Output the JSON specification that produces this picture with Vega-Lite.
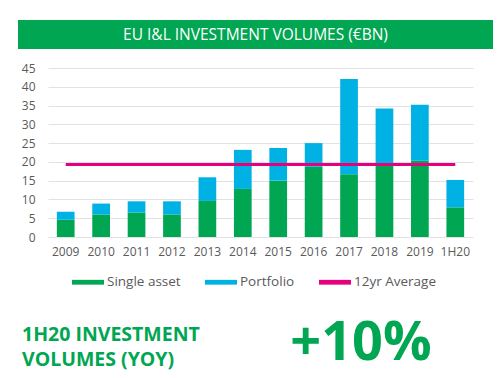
{
  "$schema": "https://vega.github.io/schema/vega-lite/v6.json",
  "width": 425,
  "height": 169,
  "autosize": "none",
  "padding": {"left": 48, "top": 68, "right": 31, "bottom": 141},
  "background": "white",
  "config": {
    "view": {"stroke": null},
    "font": "Open Sans",
    "axis": {"labelFont": "Open Sans", "labelColor": "#5a5a5a", "labelFontSize": 12},
    "legend": {"labelFont": "Open Sans", "labelColor": "#5a5a5a", "labelFontSize": 13.5}
  },
  "datasets": {
    "volumes": [
      {"year": "2009", "type": "Single asset", "value": 4.6},
      {"year": "2009", "type": "Portfolio", "value": 2.1},
      {"year": "2010", "type": "Single asset", "value": 6.0},
      {"year": "2010", "type": "Portfolio", "value": 2.9},
      {"year": "2011", "type": "Single asset", "value": 6.5},
      {"year": "2011", "type": "Portfolio", "value": 3.0},
      {"year": "2012", "type": "Single asset", "value": 6.0},
      {"year": "2012", "type": "Portfolio", "value": 3.5},
      {"year": "2013", "type": "Single asset", "value": 9.6},
      {"year": "2013", "type": "Portfolio", "value": 6.3},
      {"year": "2014", "type": "Single asset", "value": 12.8},
      {"year": "2014", "type": "Portfolio", "value": 10.4},
      {"year": "2015", "type": "Single asset", "value": 15.0},
      {"year": "2015", "type": "Portfolio", "value": 8.7},
      {"year": "2016", "type": "Single asset", "value": 18.7},
      {"year": "2016", "type": "Portfolio", "value": 6.3},
      {"year": "2017", "type": "Single asset", "value": 16.7},
      {"year": "2017", "type": "Portfolio", "value": 25.4},
      {"year": "2018", "type": "Single asset", "value": 19.1},
      {"year": "2018", "type": "Portfolio", "value": 15.1},
      {"year": "2019", "type": "Single asset", "value": 20.3},
      {"year": "2019", "type": "Portfolio", "value": 14.9},
      {"year": "1H20", "type": "Single asset", "value": 7.9},
      {"year": "1H20", "type": "Portfolio", "value": 7.3}
    ],
    "average": [
      {"year": "2009", "avg": 19.3}, {"year": "2010", "avg": 19.3}, {"year": "2011", "avg": 19.3},
      {"year": "2012", "avg": 19.3}, {"year": "2013", "avg": 19.3}, {"year": "2014", "avg": 19.3},
      {"year": "2015", "avg": 19.3}, {"year": "2016", "avg": 19.3}, {"year": "2017", "avg": 19.3},
      {"year": "2018", "avg": 19.3}, {"year": "2019", "avg": 19.3}, {"year": "1H20", "avg": 19.3}
    ],
    "one": [{}]
  },
  "layer": [
    {
      "data": {"name": "volumes"},
      "mark": {"type": "bar"},
      "encoding": {
        "x": {
          "field": "year", "type": "nominal", "sort": null,
          "scale": {"paddingInner": 0.5, "paddingOuter": 0.25},
          "axis": {"title": null, "labelAngle": 0, "ticks": false, "domain": false, "grid": false, "labelPadding": 9}
        },
        "y": {
          "field": "value", "type": "quantitative", "aggregate": "sum",
          "scale": {"domain": [0, 45]},
          "axis": {"title": null, "values": [0,5,10,15,20,25,30,35,40,45], "labelOverlap": false, "ticks": false, "domain": false, "labelPadding": 13, "gridColor": "#e2e2e2", "gridWidth": 1.2}
        },
        "color": {
          "field": "type", "type": "nominal",
          "scale": {"domain": ["Single asset", "Portfolio", "12yr Average"], "range": ["#00a651", "#00b2e3", "#e5007e"]},
          "legend": {
            "title": null, "orient": "none", "direction": "horizontal",
            "legendX": 24, "legendY": 198,
            "symbolType": "M-1,-0.15H1V0.15H-1Z", "symbolSize": 1024,
            "symbolStrokeWidth": 0, "labelOffset": 3, "columnPadding": 24,
            "encode": {"symbols": {"update": {"fill": {"scale": "color", "field": "value"}, "strokeWidth": {"value": 0}, "opacity": {"value": 1}}}}
          }
        },
        "order": {"field": "type", "sort": "descending"}
      }
    },
    {
      "data": {"name": "average"},
      "mark": {"type": "line", "strokeWidth": 3},
      "encoding": {
        "x": {"field": "year", "type": "nominal", "sort": null},
        "y": {
          "field": "avg", "type": "quantitative",
          "axis": {"title": null, "values": [0,5,10,15,20,25,30,35,40,45], "labelOverlap": false, "ticks": false, "domain": false, "labelPadding": 13, "gridColor": "#e2e2e2", "gridWidth": 1.2}
        },
        "color": {"datum": "12yr Average"}
      }
    },
    {
      "data": {"name": "one"},
      "mark": {"type": "rect", "fill": "#00a651"},
      "encoding": {"x": {"value": -30}, "x2": {"value": 445}, "y": {"value": -48}, "y2": {"value": -19}}
    },
    {
      "data": {"name": "one"},
      "mark": {"type": "text", "text": "EU I&L INVESTMENT VOLUMES (€BN)", "color": "white", "font": "Open Sans", "fontSize": 15.5, "align": "center", "baseline": "middle"},
      "encoding": {"x": {"value": 207.5}, "y": {"value": -33}}
    },
    {
      "data": {"name": "one"},
      "mark": {"type": "text", "text": ["1H20 INVESTMENT", "VOLUMES (YOY)"], "color": "#00a651", "font": "Open Sans", "fontWeight": "bold", "fontSize": 19.5, "lineHeight": 25, "align": "left", "baseline": "alphabetic"},
      "encoding": {"x": {"value": -26}, "y": {"value": 273}}
    },
    {
      "data": {"name": "one"},
      "mark": {"type": "text", "text": "+10%", "color": "#00a651", "font": "Open Sans", "fontWeight": "bold", "fontSize": 54, "align": "center", "baseline": "alphabetic"},
      "encoding": {"x": {"value": 313}, "y": {"value": 292}}
    }
  ]
}
